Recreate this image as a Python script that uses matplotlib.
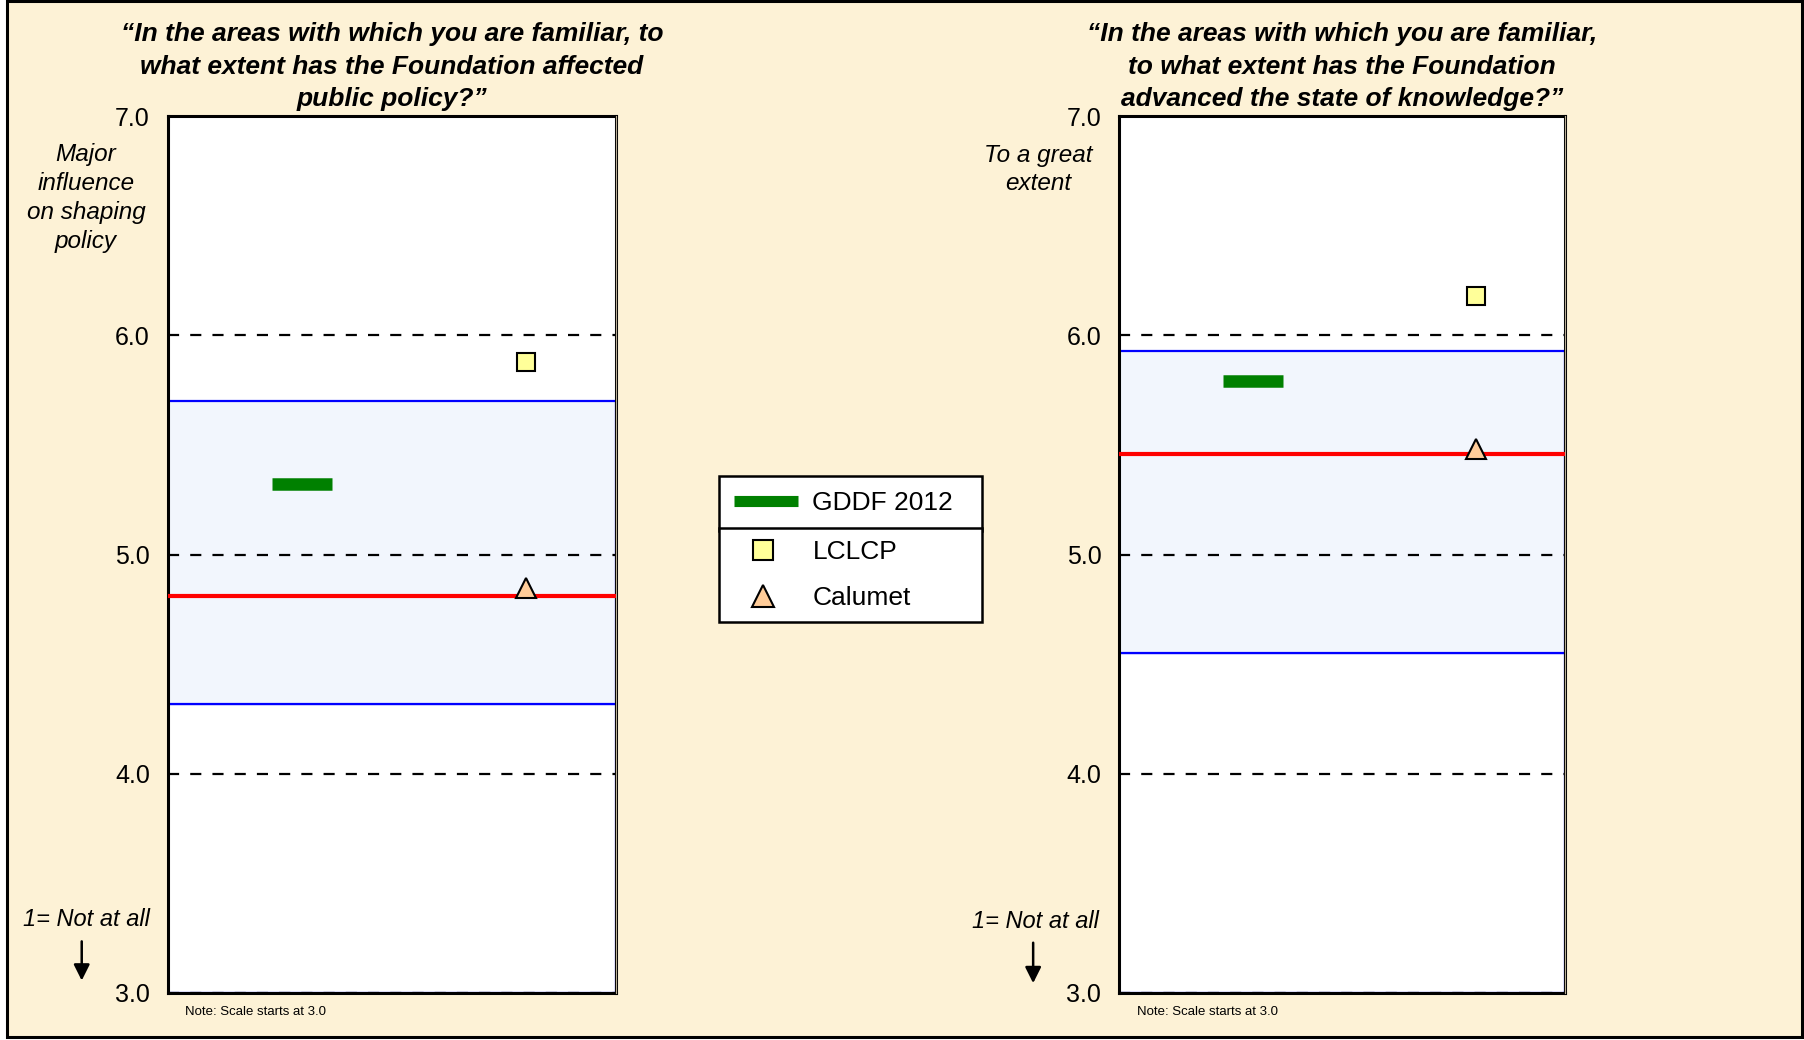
import matplotlib.pyplot as plt
from matplotlib.lines import Line2D
from matplotlib.patches import Rectangle, FancyArrowPatch

plt.rcParams['font.family'] = ['Liberation Sans', 'DejaVu Sans']

# survey questions, one panel each
titles = [
    "\u201cIn the areas with which you are familiar, to\nwhat extent has the Foundation affected\npublic policy?\u201d",
    "\u201cIn the areas with which you are familiar,\nto what extent has the Foundation\nadvanced the state of knowledge?\u201d",
]
top_labels = ["Major\ninfluence\non shaping\npolicy", "To a great\nextent"]
bottom_label = "1= Not at all"

# ratings (1-7 scale)
gddf_2012 = [5.32, 5.79]
lclcp = [5.88, 6.18]
calumet = [4.85, 5.48]
median_line = [4.81, 5.46]
range_low = [4.32, 4.55]
range_high = [5.70, 5.93]

y_ticks = [3.0, 4.0, 5.0, 6.0, 7.0]
series_names = ["GDDF 2012", "LCLCP", "Calumet"]

CREAM = '#fdf2d6'
GREEN = '#008000'
BLUE = '#0000ff'
BAND = '#f2f6fd'

fig = plt.figure(figsize=(18.04, 10.40), dpi=100, facecolor='white')
fig.patches.append(Rectangle((0.0039, 0.0029), 0.995, 0.9957, transform=fig.transFigure,
                             facecolor=CREAM, edgecolor='black', lw=2.2, zorder=-10))

axes_rects = [[0.0931, 0.0452, 0.2483, 0.843], [0.6205, 0.0452, 0.2468, 0.843]]
title_x = [0.2173, 0.7439]
title_baselines = [0.9601, 0.9291, 0.8981]
top_label_pos = [(0.0477, 0.8095), (0.5754, 0.837)]
bottom_label_pos = [(0.0477, 0.1163), (0.5738, 0.1139)]
arrow_pos = [(0.0453, 0.0975, 0.0545), (0.5727, 0.0962, 0.0520)]
note_x = [0.1025, 0.6303]

gddf_x, gddf_w = 0.30, 0.134
marker_x = 0.80

for i in range(2):
    ax = fig.add_axes(axes_rects[i])
    ax.set_xlim(0, 1)
    ax.set_ylim(3, 7)
    ax.set_facecolor('white')

    # range band: white block up to the low end, shaded block up to the high end
    ax.bar(0.5, range_low[i] - 3, bottom=3, width=1, color='white',
           edgecolor=BLUE, lw=1.6, zorder=1)
    ax.bar(0.5, range_high[i] - range_low[i], bottom=range_low[i], width=1,
           color=BAND, edgecolor=BLUE, lw=1.6, zorder=1)

    ax.set_yticks(y_ticks)
    ax.set_yticklabels([f'{t:.1f}' for t in y_ticks])
    ax.set_xticks([])
    ax.tick_params(axis='y', length=0, pad=13, labelsize=18)
    ax.grid(axis='y', color='black', ls=(0, (5, 5)), lw=1.6)
    for s in ax.spines.values():
        s.set_color('black')
        s.set_linewidth(2.2)
    ax.axvline(1, color='#b8ad95', lw=0.8, clip_on=False, zorder=5)

    ax.axhline(median_line[i], color='#ff0000', lw=3, zorder=3)
    ax.plot([gddf_x - gddf_w / 2, gddf_x + gddf_w / 2], [gddf_2012[i]] * 2,
            color=GREEN, lw=9, solid_capstyle='butt', zorder=4)
    ax.plot(marker_x, lclcp[i], ls='none', marker='s', ms=13.5, mfc='#ffff99',
            mec='black', mew=1.5, zorder=5)
    ax.plot(marker_x, calumet[i], ls='none', marker='^', ms=15, mfc='#ffcc99',
            mec='black', mew=1.5, zorder=5)

    # question title, one line at a time so each line keeps its own width
    for line, y in zip(titles[i].split('\n'), title_baselines):
        fig.text(title_x[i], y, line, ha='center', va='baseline', fontsize=19,
                 fontweight='bold', fontstyle='italic')
    fig.text(*top_label_pos[i], top_labels[i], ha='center', va='center', fontsize=17.5,
             fontstyle='italic', linespacing=1.32)
    fig.text(*bottom_label_pos[i], bottom_label, ha='center', va='center', fontsize=17,
             fontstyle='italic')
    ax_x, y0, y1 = arrow_pos[i]
    fig.add_artist(FancyArrowPatch((ax_x, y0), (ax_x, y1), transform=fig.transFigure,
                                   arrowstyle='-|>', mutation_scale=24, lw=1.8, color='black'))
    fig.text(note_x[i], 0.0269, "Note: Scale starts at 3.0", ha='left', va='center',
             fontsize=9.5)

# legend, split in two stacked boxes
h_gddf = Line2D([], [], color=GREEN, lw=8, solid_capstyle='butt')
h_lclcp = Line2D([], [], ls='none', marker='s', ms=14, mfc='#ffff99', mec='black', mew=1.5)
h_calumet = Line2D([], [], ls='none', marker='^', ms=16, mfc='#ffcc99', mec='black', mew=1.5)

leg_kw = dict(loc='upper left', mode='expand', borderaxespad=0, fancybox=False,
              framealpha=1, edgecolor='black', fontsize=19, handlelength=2.4,
              numpoints=1)
leg1 = fig.legend([h_gddf], series_names[:1], bbox_to_anchor=(0.3986, 0.5423, 0.1458, 0),
                  borderpad=0.58, handletextpad=0.55, **leg_kw)
leg2 = fig.legend([h_lclcp, h_calumet], series_names[1:],
                  bbox_to_anchor=(0.3986, 0.4923, 0.1458, 0),
                  borderpad=0.45, labelspacing=0.85, handletextpad=0.7, **leg_kw)
for leg in (leg1, leg2):
    leg.get_frame().set_linewidth(1.8)

fig.savefig('out.png', dpi=100, facecolor=fig.get_facecolor())
